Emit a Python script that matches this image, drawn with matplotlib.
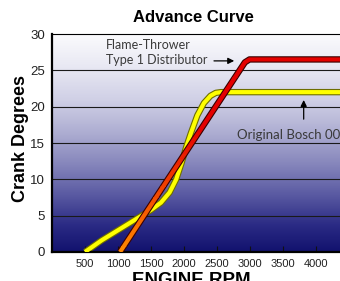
import numpy as np
import matplotlib
matplotlib.use('Agg')
import matplotlib.pyplot as plt
from matplotlib.colors import LinearSegmentedColormap, to_rgb
from matplotlib.patches import Rectangle

# data
rpm_ticks = [500, 1000, 1500, 2000, 2500, 3000, 3500, 4000]
deg_ticks = [0, 5, 10, 15, 20, 25, 30]

flame_rpm = [1030, 2920, 2990, 4400]
flame_deg = [0, 26.1, 26.5, 26.5]

bosch_rpm = [500, 750, 1000, 1250, 1500, 1650, 1780, 1880, 1960, 2030, 2100,
             2200, 2300, 2400, 2480, 2560, 4400]
bosch_deg = [0, 1.6, 3.0, 4.4, 5.8, 6.8, 8.2, 10.0, 12.2, 14.4, 16.3,
             18.8, 20.5, 21.5, 21.9, 22.0, 22.0]

fig = plt.figure(figsize=(3.4, 2.81), dpi=100)
ax = fig.add_axes([52/340, 29/281, 290/340, 218/281])
ax.set_xlim(0, 4390)
ax.set_ylim(0, 30)

# background gradient
bg = LinearSegmentedColormap.from_list('bg', [
    (0.0, '#12126e'), (0.12, '#2a2a84'), (0.25, '#5656a0'), (0.4, '#8585bb'),
    (0.55, '#aeaed2'), (0.7, '#d0d0e6'), (0.85, '#e8e8f3'), (1.0, '#fbfbfd')])
grad = np.linspace(0, 1, 256).reshape(-1, 1)
ax.imshow(grad, cmap=bg, origin='lower', aspect='auto',
          extent=[0, 4390, 0, 30], zorder=0)

for d in deg_ticks[1:-1]:
    ax.axhline(d, color='#1a1a1a', lw=0.8, zorder=1)

# Bosch curve (yellow)
ax.plot(bosch_rpm, bosch_deg, color='#6e6e00', lw=4.6, zorder=2,
        solid_capstyle='butt', solid_joinstyle='round')
ax.plot(bosch_rpm, bosch_deg, color='#ffff00', lw=3.0, zorder=3,
        solid_capstyle='butt', solid_joinstyle='round')

# Flame-Thrower curve (orange -> red)
ax.plot(flame_rpm, flame_deg, color='#3a0000', lw=4.6, zorder=4,
        solid_capstyle='butt', solid_joinstyle='round')
c0 = np.array(to_rgb('#ff8a00'))
c1 = np.array(to_rgb('#e40000'))
nb = 40
for i in range(nb):
    y0 = i * 30 / nb
    t = min(1.0, (y0 + 0.375) / 17.0)
    col = c0 * (1 - t) + c1 * t
    ln, = ax.plot(flame_rpm, flame_deg, color=col, lw=3.0, zorder=5,
                  solid_capstyle='butt', solid_joinstyle='round')
    ln.set_clip_path(Rectangle((0, y0), 4400, 30 / nb + 0.02,
                               transform=ax.transData))

ax.set_xticks(rpm_ticks)
ax.set_yticks(deg_ticks)
ax.tick_params(axis='x', direction='in', length=4.5, width=0.8,
               color='#111111', labelsize=8, pad=5, labelcolor='#222222')
ax.tick_params(axis='y', length=0, labelsize=9.5, pad=5, labelcolor='#222222')
for lab in ax.get_xticklabels() + ax.get_yticklabels():
    lab.set_family('Liberation Sans')

ax.spines['left'].set_linewidth(1.6)
ax.spines['bottom'].set_linewidth(1.6)
ax.spines['top'].set_linewidth(0.8)
ax.spines['right'].set_visible(False)

# annotations
ax.text(810, 27.45, 'Flame-Thrower\nType 1 Distributor', fontsize=9.0,
        family='Lato', color='#3a3a3a', va='center', ha='left',
        linespacing=1.35, zorder=6)
ax.annotate('', xy=(2800, 26.3), xytext=(2410, 26.3),
            arrowprops=dict(arrowstyle='-|>', color='black', lw=0.9,
                            mutation_scale=9), zorder=6)
ax.annotate('', xy=(3810, 21.3), xytext=(3810, 17.9),
            arrowprops=dict(arrowstyle='-|>', color='black', lw=0.9,
                            mutation_scale=9), zorder=6)
ax.text(2800, 16.1, 'Original Bosch 009', fontsize=9.5, family='Lato',
        color='#3a3a3a', va='center', ha='left', zorder=6, clip_on=False)

fig.text(193/340, 1 - 17/281, 'Advance Curve', fontsize=12, weight='bold',
         family=['Liberation Sans Narrow', 'Liberation Sans'],
         ha='center', va='center')
fig.text(21/340, 142/281, 'Crank Degrees', fontsize=13, weight='bold',
         family='Liberation Sans', rotation=90, ha='center', va='center')
fig.text(191/340, 1 - 272/281, 'ENGINE RPM', fontsize=13.5, weight='bold',
         family='Liberation Sans', ha='center', va='top')

fig.savefig('out.png', dpi=100)
